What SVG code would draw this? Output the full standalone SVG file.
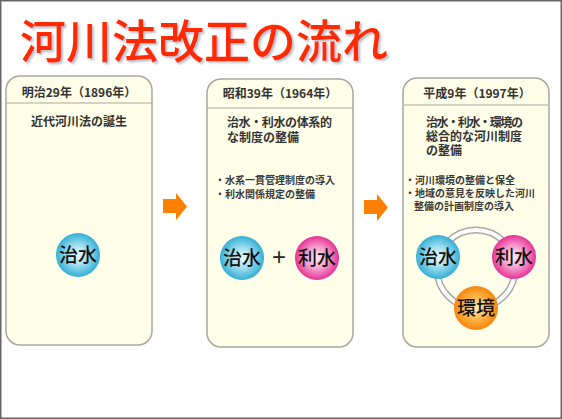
<svg xmlns="http://www.w3.org/2000/svg" width="562" height="419" viewBox="0 0 562 419">
<defs>
<radialGradient id="gBlue" cx="50%" cy="50%" r="55%">
<stop offset="0" stop-color="#eefbfe"/><stop offset="0.45" stop-color="#9bdcee"/><stop offset="1" stop-color="#1ea5d0"/>
</radialGradient>
<radialGradient id="gPink" cx="50%" cy="50%" r="55%">
<stop offset="0" stop-color="#fdeaf4"/><stop offset="0.45" stop-color="#f6a0cf"/><stop offset="1" stop-color="#e21d88"/>
</radialGradient>
<radialGradient id="gOrange" cx="50%" cy="50%" r="55%">
<stop offset="0" stop-color="#fff3c8"/><stop offset="0.45" stop-color="#ffb84a"/><stop offset="1" stop-color="#f47a00"/>
</radialGradient>
<filter id="shadow" x="-5%" y="-20%" width="110%" height="140%">
<feDropShadow dx="2" dy="2" stdDeviation="0.8" flood-color="#8a94a8" flood-opacity="0.6"/>
</filter>
<style>
.panel{fill:#fffee8;stroke:#a8a8a0;stroke-width:1.5}
.div{stroke:#a8a8a0;stroke-width:1.2}
.hdr{font-family:"Noto Sans CJK JP","Noto Sans",sans-serif;font-size:12px;font-weight:bold;fill:#333;text-anchor:middle}
.sub{font-family:"Noto Sans CJK JP","Noto Sans",sans-serif;font-size:12px;font-weight:bold;fill:#333}
.bul{font-family:"Noto Sans CJK JP","Noto Sans",sans-serif;font-size:10px;font-weight:bold;fill:#3a3a3a}
.ct{font-family:"Noto Sans CJK JP","Noto Sans",sans-serif;font-size:19px;font-weight:500;fill:#111;text-anchor:middle}
.arrow{fill:#ff8000}
.title{font-family:"Noto Sans CJK JP","Noto Sans",sans-serif;font-size:46px;font-weight:500;fill:#ff2a00}
</style>
</defs>
<rect x="0.75" y="0.75" width="560.5" height="417.5" fill="#ffffff" stroke="#666666" stroke-width="1.5"/>
<g id="title">
<text class="title" x="20" y="58" filter="url(#shadow)">河川法改正の流れ</text>
</g>
<g id="panel1">
<rect class="panel" x="6" y="76" width="146" height="269" rx="14"/>
<line class="div" x1="6" y1="103" x2="152" y2="103"/>
<text class="hdr" x="79" y="96.5">明治29年（1896年）</text>
<text class="sub" x="79" y="126" text-anchor="middle">近代河川法の誕生</text>
<g id="p1-chisui">
<circle cx="78" cy="255" r="22" fill="url(#gBlue)"/>
<text class="ct" x="78" y="262">治水</text>
</g>
</g>
<g id="panel2">
<rect class="panel" x="207" y="79" width="146" height="268" rx="14"/>
<line class="div" x1="207" y1="108" x2="353" y2="108"/>
<text class="hdr" x="280" y="98">昭和39年（1964年）</text>
<text class="sub" x="227" y="127" textLength="105">治水・利水の体系的</text>
<text class="sub" x="227" y="142">な制度の整備</text>
<text class="bul" x="215" y="184">・水系一貫管理制度の導入</text>
<text class="bul" x="215" y="198">・利水関係規定の整備</text>
<g id="p2-chisui">
<circle cx="242" cy="258" r="22" fill="url(#gBlue)"/>
<text class="ct" x="242" y="265">治水</text>
</g>
<text x="279" y="265" font-family="'Liberation Sans',sans-serif" font-size="24" fill="#222" text-anchor="middle">+</text>
<g id="p2-risui">
<circle cx="317" cy="258" r="22" fill="url(#gPink)"/>
<text class="ct" x="317" y="265">利水</text>
</g>
</g>
<g id="panel3">
<rect class="panel" x="403" y="78" width="146" height="269" rx="14"/>
<line class="div" x1="403" y1="105" x2="549" y2="105"/>
<text class="hdr" x="477" y="97.5">平成9年（1997年）</text>
<text class="sub" x="426" y="127" textLength="97">治水・利水・環境の</text>
<text class="sub" x="426" y="141">総合的な河川制度</text>
<text class="sub" x="426" y="155">の整備</text>
<text class="bul" x="405" y="184">・河川環境の整備と保全</text>
<text class="bul" x="405" y="197">・地域の意見を反映した河川</text>
<text class="bul" x="414" y="210">整備の計画制度の導入</text>
<circle cx="476" cy="269" r="39" fill="none" stroke="#a8a8a8" stroke-width="7"/>
<circle cx="476" cy="269" r="39" fill="none" stroke="#ffffff" stroke-width="4"/>
<g id="p3-chisui">
<circle cx="438" cy="257" r="22" fill="url(#gBlue)"/>
<text class="ct" x="438" y="264">治水</text>
</g>
<g id="p3-risui">
<circle cx="514" cy="257" r="22" fill="url(#gPink)"/>
<text class="ct" x="514" y="264">利水</text>
</g>
<g id="p3-kankyo">
<circle cx="476" cy="308" r="22" fill="url(#gOrange)"/>
<text class="ct" x="476" y="315">環境</text>
</g>
</g>
<g id="connectors">
<polygon class="arrow" points="163,199 176,199 176,193 187,206.5 176,220 176,213 163,213"/>
<polygon class="arrow" points="364,200 377,200 377,194 388,207.5 377,221 377,214 364,214"/>
</g>
</svg>
